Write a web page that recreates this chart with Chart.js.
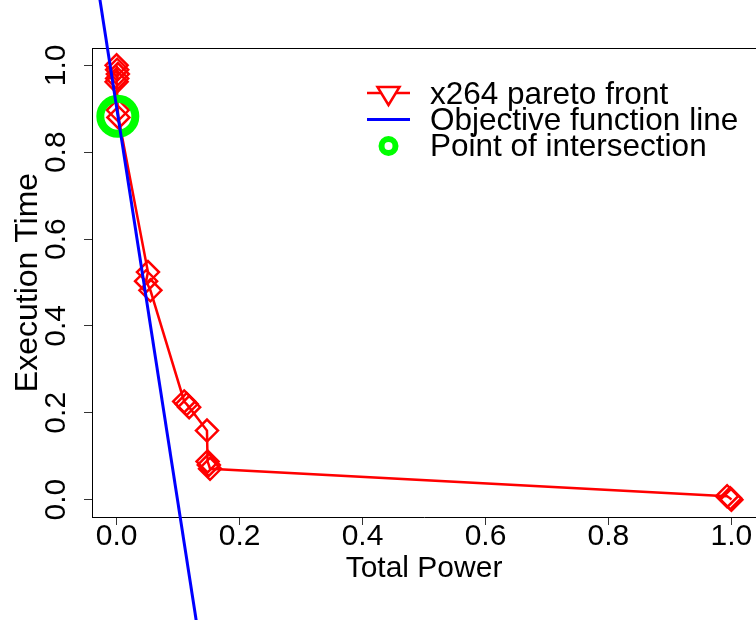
<!DOCTYPE html>
<html><head><meta charset="utf-8">
<script src="https://cdn.jsdelivr.net/npm/chart.js@4/dist/chart.umd.min.js"></script>
<style>html,body{margin:0;padding:0;background:#fff;overflow:hidden}#wrap{width:756px;height:620px;position:relative}</style>
</head><body><div id="wrap"><canvas id="c" width="756" height="620"></canvas></div>
<script>
// ---- data ----
const powerValues = [0.000, 0.001, 0.002, 0.001, 0.000, 0.002, 0.003, 0.051, 0.048, 0.055, 0.110, 0.114, 0.118, 0.147, 0.148, 0.150, 0.152, 0.993, 0.998, 1.000];
const timeValues  = [1.000, 0.990, 0.980, 0.970, 0.962, 0.897, 0.880, 0.524, 0.503, 0.482, 0.226, 0.220, 0.213, 0.159, 0.088, 0.080, 0.071, 0.008, 0.003, 0.000];
const objectiveLineX = [-0.033, 0.133];
const objectiveLineY = [1.205, -0.310];
const intersectionX = [0.002];
const intersectionY = [0.883];
const xTickValues = [0, 0.2, 0.4, 0.6, 0.8, 1.0];
const yTickValues = [0, 0.2, 0.4, 0.6, 0.8, 1.0];
const legendLabels = ['x264 pareto front', 'Objective function line', 'Point of intersection'];
const xTitle = 'Total Power';
const yTitle = 'Execution Time';

const FONT = '"Liberation Sans", Arial, Helvetica, sans-serif';
const RED = '#ff0000', BLUE = '#0000ff', GREEN = '#00ff00';

const toPts = (xs, ys) => xs.map((x, i) => ({x, y: ys[i]}));
const noPad = s => { s.paddingLeft = 0; s.paddingRight = 0; s.paddingTop = 0; s.paddingBottom = 0; };

const boxPlugin = {
  id: 'rBox',
  beforeDatasetsDraw(chart) {
    const {ctx, chartArea: a} = chart;
    ctx.save();
    ctx.strokeStyle = '#000';
    ctx.lineWidth = 1;
    ctx.beginPath();
    ctx.moveTo(a.left, a.top + 0.5);
    ctx.lineTo(a.right, a.top + 0.5);
    ctx.stroke();
    ctx.restore();
  }
};

const legendPlugin = {
  id: 'rLegend',
  afterDraw(chart) {
    const ctx = chart.ctx;
    const ds = chart.data.datasets;
    const x0 = 367, x1 = 410, cx = 388.5, tx = 430;
    const rows = [93, 119.5, 146];
    const base = [103.5, 129.5, 155.5];
    ctx.save();
    const red = ds.find(d => d.label === legendLabels[0]);
    ctx.strokeStyle = red.borderColor; ctx.lineWidth = 2.5;
    ctx.beginPath(); ctx.moveTo(x0, rows[0]); ctx.lineTo(x1, rows[0]); ctx.stroke();
    ctx.beginPath(); ctx.moveTo(cx - 11, 87); ctx.lineTo(cx + 11, 87); ctx.lineTo(cx, 105); ctx.closePath();
    ctx.fillStyle = '#fff'; ctx.fill(); ctx.stroke();
    const blue = ds.find(d => d.label === legendLabels[1]);
    ctx.strokeStyle = blue.borderColor; ctx.lineWidth = 3;
    ctx.beginPath(); ctx.moveTo(x0, rows[1]); ctx.lineTo(x1, rows[1]); ctx.stroke();
    const green = ds.find(d => d.label === legendLabels[2]);
    ctx.strokeStyle = green.borderColor; ctx.lineWidth = 6;
    ctx.beginPath(); ctx.arc(cx, rows[2], 7, 0, Math.PI * 2); ctx.stroke();
    ctx.fillStyle = '#000';
    ctx.font = '31.5px ' + FONT;
    ctx.textAlign = 'left'; ctx.textBaseline = 'alphabetic';
    legendLabels.forEach((t, i) => ctx.fillText(t, tx, base[i]));
    ctx.restore();
  }
};

new Chart(document.getElementById('c'), {
  type: 'scatter',
  data: {
    datasets: [
      {
        label: legendLabels[1],
        data: toPts(objectiveLineX, objectiveLineY),
        showLine: true, borderColor: BLUE, borderWidth: 3,
        pointRadius: 0, clip: false
      },
      {
        label: legendLabels[2],
        data: toPts(intersectionX, intersectionY),
        pointStyle: 'circle', pointRadius: 17.5, borderWidth: 8,
        borderColor: GREEN, backgroundColor: 'rgba(0,0,0,0)', clip: false
      },
      {
        label: legendLabels[0],
        data: toPts(powerValues, timeValues),
        showLine: true, borderColor: RED, borderWidth: 2.5,
        pointStyle: 'rectRot', pointRadius: 11, pointBorderWidth: 2.5,
        pointBorderColor: RED, pointBackgroundColor: 'rgba(0,0,0,0)', clip: false
      }
    ]
  },
  options: {
    responsive: false, animation: false, devicePixelRatio: 1,
    layout: {autoPadding: false, padding: {top: 48, left: 0, right: 0, bottom: 0}},
    plugins: {legend: {display: false}, tooltip: {enabled: false}},
    scales: {
      x: {
        type: 'linear', position: 'bottom', min: -0.04, max: 1.04,
        afterBuildTicks: s => { s.ticks = xTickValues.map(v => ({value: v})); },
        afterFit: s => { s.height = 103; noPad(s); },
        ticks: {
          font: {family: FONT, size: 30}, color: '#000', padding: -6,
          autoSkip: false, maxRotation: 0, minRotation: 0,
          callback: v => Number(v).toFixed(1)
        },
        grid: {display: true, drawOnChartArea: false, drawTicks: true, tickLength: 8, color: '#333', lineWidth: 1},
        border: {display: true, color: '#000', width: 1},
        title: {display: true, text: xTitle, font: {family: FONT, size: 30}, color: '#000', padding: {top: 0, bottom: 33}}
      },
      y: {
        type: 'linear', position: 'left', min: -0.04, max: 1.04,
        afterBuildTicks: s => { s.ticks = yTickValues.map(v => ({value: v})); },
        afterFit: s => { s.width = 92; noPad(s); },
        ticks: {
          font: {family: FONT, size: 30}, color: '#000', padding: 6,
          autoSkip: false, minRotation: 90, maxRotation: 90, crossAlign: 'center',
          callback: v => Number(v).toFixed(1)
        },
        grid: {display: true, drawOnChartArea: false, drawTicks: true, tickLength: 8, color: '#333', lineWidth: 1},
        border: {display: true, color: '#000', width: 1},
        title: {display: true, text: yTitle, font: {family: FONT, size: 32}, color: '#000', padding: {top: 9, bottom: 0}}
      }
    }
  },
  plugins: [boxPlugin, legendPlugin]
});
</script>
</body></html>
